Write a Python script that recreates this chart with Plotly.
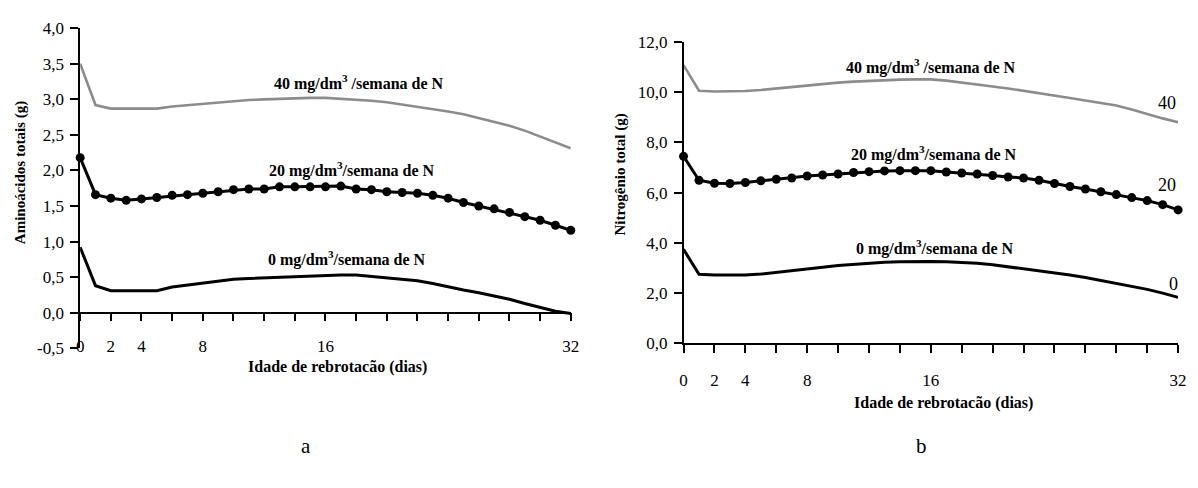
import plotly.graph_objects as go

# ---------------- data ----------------
days = list(range(33))

amino_40 = [3.50, 2.92, 2.87, 2.87, 2.87, 2.87, 2.90, 2.92, 2.94, 2.96, 2.98, 2.99, 3.00,
            3.01, 3.02, 3.02, 3.02, 3.01, 3.00, 2.98, 2.96, 2.93, 2.90, 2.87, 2.83, 2.79,
            2.74, 2.69, 2.63, 2.56, 2.48, 2.40, 2.31]
amino_20 = [2.18, 1.66, 1.61, 1.58, 1.60, 1.62, 1.65, 1.66, 1.68, 1.70, 1.73, 1.74, 1.74,
            1.77, 1.77, 1.77, 1.77, 1.78, 1.74, 1.73, 1.70, 1.69, 1.68, 1.65, 1.61, 1.55,
            1.50, 1.46, 1.41, 1.35, 1.30, 1.23, 1.16]
amino_0 = [0.92, 0.38, 0.31, 0.31, 0.31, 0.31, 0.36, 0.39, 0.42, 0.45, 0.47, 0.48, 0.49,
           0.50, 0.51, 0.52, 0.53, 0.53, 0.53, 0.51, 0.50, 0.48, 0.45, 0.41, 0.36, 0.32,
           0.28, 0.24, 0.19, 0.13, 0.07, 0.02, -0.01]

nitro_40 = [11.07, 10.05, 10.02, 10.02, 10.04, 10.08, 10.14, 10.22, 10.28, 10.33, 10.37,
            10.41, 10.44, 10.47, 10.49, 10.50, 10.50, 10.45, 10.38, 10.31, 10.22, 10.14,
            10.05, 9.96, 9.86, 9.76, 9.66, 9.56, 9.46, 9.30, 9.12, 8.95, 8.80]
nitro_20 = [7.44, 6.49, 6.37, 6.36, 6.40, 6.47, 6.53, 6.58, 6.66, 6.70, 6.74, 6.80, 6.83,
            6.86, 6.87, 6.87, 6.87, 6.82, 6.78, 6.74, 6.68, 6.62, 6.58, 6.49, 6.36, 6.24,
            6.14, 6.03, 5.92, 5.80, 5.68, 5.52, 5.31]
nitro_0 = [3.74, 2.75, 2.72, 2.72, 2.72, 2.76, 2.82, 2.88, 2.97, 3.03, 3.10, 3.15, 3.20,
           3.23, 3.25, 3.26, 3.26, 3.25, 3.23, 3.19, 3.13, 3.05, 2.98, 2.90, 2.80, 2.72,
           2.62, 2.50, 2.40, 2.28, 2.15, 2.00, 1.83]

x_tick_vals = list(range(0, 33, 2))
x_labelled = [0, 2, 4, 8, 16, 32]
x_tick_text = [str(v) if v in x_labelled else "" for v in x_tick_vals]

amino_ticks = [-0.5, 0.0, 0.5, 1.0, 1.5, 2.0, 2.5, 3.0, 3.5, 4.0]
amino_tick_text = ["-0,5", "0,0", "0,5", "1,0", "1,5", "2,0", "2,5", "3,0", "3,5", "4,0"]
nitro_ticks = [0, 2, 4, 6, 8, 10, 12]
nitro_tick_text = ["0,0", "2,0", "4,0", "6,0", "8,0", "10,0", "12,0"]

series_labels = ["40 mg/dm<sup>3</sup> /semana de N",
                 "20 mg/dm<sup>3</sup>/semana de N",
                 "0 mg/dm<sup>3</sup>/semana de N"]
end_labels = ["40", "20", "0"]

# ---------------- layout geometry ----------------
W, H = 1198, 488
FONT = "Liberation Serif, Times New Roman, Times, DejaVu Serif, serif"
GRAY = "rgb(140,140,140)"

y1_dom = [1 - 353 / H, 1 - 20 / H]
y1_rng = [-0.5, 4.0]
x1_pos = y1_dom[0] + (0 - y1_rng[0]) / (y1_rng[1] - y1_rng[0]) * (y1_dom[1] - y1_dom[0])

fig = go.Figure()

# left panel
fig.add_trace(go.Scatter(x=days, y=amino_40, mode="lines", line=dict(color=GRAY, width=2.6),
                         xaxis="x", yaxis="y", cliponaxis=False, showlegend=False))
fig.add_trace(go.Scatter(x=days, y=amino_20, mode="lines+markers",
                         line=dict(color="black", width=3), marker=dict(color="black", size=9),
                         xaxis="x", yaxis="y", cliponaxis=False, showlegend=False))
fig.add_trace(go.Scatter(x=days, y=amino_0, mode="lines", line=dict(color="black", width=3),
                         xaxis="x", yaxis="y", cliponaxis=False, showlegend=False))

# right panel
fig.add_trace(go.Scatter(x=days, y=nitro_40, mode="lines", line=dict(color=GRAY, width=2.6),
                         xaxis="x2", yaxis="y2", cliponaxis=False, showlegend=False))
fig.add_trace(go.Scatter(x=days, y=nitro_20, mode="lines+markers",
                         line=dict(color="black", width=3), marker=dict(color="black", size=9),
                         xaxis="x2", yaxis="y2", cliponaxis=False, showlegend=False))
fig.add_trace(go.Scatter(x=days, y=nitro_0, mode="lines", line=dict(color="black", width=3),
                         xaxis="x2", yaxis="y2", cliponaxis=False, showlegend=False))

tickfont = dict(family=FONT, size=17, color="black")
xcommon = dict(range=[0, 32], tickmode="array", tickvals=x_tick_vals, ticktext=x_tick_text,
               showgrid=False, zeroline=False, showline=True, linecolor="black", linewidth=1.5,
               ticks="outside", ticklen=8, tickcolor="black", tickwidth=1.5,
               tickfont=tickfont)
ycommon = dict(showgrid=False, zeroline=False, showline=True, linecolor="black", linewidth=1.5,
               ticks="outside", ticklen=8, tickcolor="black", tickwidth=1.5,
               ticklabelstandoff=3, tickmode="array", tickfont=tickfont)

fig.update_layout(
    width=W, height=H, margin=dict(l=0, r=0, t=0, b=0),
    paper_bgcolor="white", plot_bgcolor="white",
    font=dict(family=FONT, color="black"),
    xaxis=dict(domain=[77 / W, 573 / W], anchor="free", position=x1_pos,
               ticklabelstandoff=10, **xcommon),
    yaxis=dict(domain=y1_dom, range=y1_rng, anchor="x", tickvals=amino_ticks,
               ticktext=amino_tick_text, **ycommon),
    xaxis2=dict(domain=[687 / W, 1187 / W], anchor="y2", ticklabelstandoff=12, **xcommon),
    yaxis2=dict(domain=[1 - 348 / H, 1 - 34 / H], range=[0, 12], anchor="x2",
                tickvals=nitro_ticks, ticktext=nitro_tick_text, **ycommon),
)

bold = dict(family=FONT, size=16, color="black")
ybold = dict(family=FONT, size=15, color="black")
C = dict(xanchor="center", yanchor="middle", showarrow=False)
ann = []
# series labels, left
for txt, (xx, yy) in zip(series_labels, [(18.2, 3.23), (17.7, 2.01), (17.4, 0.76)]):
    ann.append(dict(text="<b>" + txt + "</b>", x=xx, y=yy, xref="x", yref="y",
                    font=bold, **C))
# series labels, right
for txt, (xx, yy) in zip(series_labels, [(16.0, 11.0), (16.2, 7.56), (16.3, 3.82)]):
    ann.append(dict(text="<b>" + txt + "</b>", x=xx, y=yy, xref="x2", yref="y2",
                    font=bold, **C))
# end labels right
for txt, (xx, yy) in zip(end_labels, [(31.3, 9.58), (31.3, 6.30), (31.7, 2.37)]):
    ann.append(dict(text=txt, x=xx, y=yy, xref="x2", yref="y2",
                    font=dict(family=FONT, size=18, color="black"), **C))
# axis titles
ann.append(dict(text="<b>Idade de rebrotacão (dias)</b>", x=337 / W, y=1 - 373 / H,
                xref="paper", yref="paper", font=bold, **C))
ann.append(dict(text="<b>Idade de rebrotacão (dias)</b>", x=950 / W, y=1 - 410 / H,
                xref="paper", yref="paper", font=bold, **C))
ann.append(dict(text="<b>Aminoácidos totais (g)</b>", x=17 / W, y=1 - 170 / H,
                xref="paper", yref="paper", textangle=-90, font=ybold, **C))
ann.append(dict(text="<b>Nitrogênio total (g)</b>", x=623 / W, y=1 - 172 / H,
                xref="paper", yref="paper", textangle=-90, font=ybold, **C))
# panel letters
ann.append(dict(text="a", x=305 / W, y=1 - 455 / H, xref="paper", yref="paper",
                font=dict(family=FONT, size=21, color="black"), **C))
ann.append(dict(text="b", x=928 / W, y=1 - 455 / H, xref="paper", yref="paper",
                font=dict(family=FONT, size=21, color="black"), **C))

fig.update_layout(annotations=ann)
fig.write_html("out.html")
